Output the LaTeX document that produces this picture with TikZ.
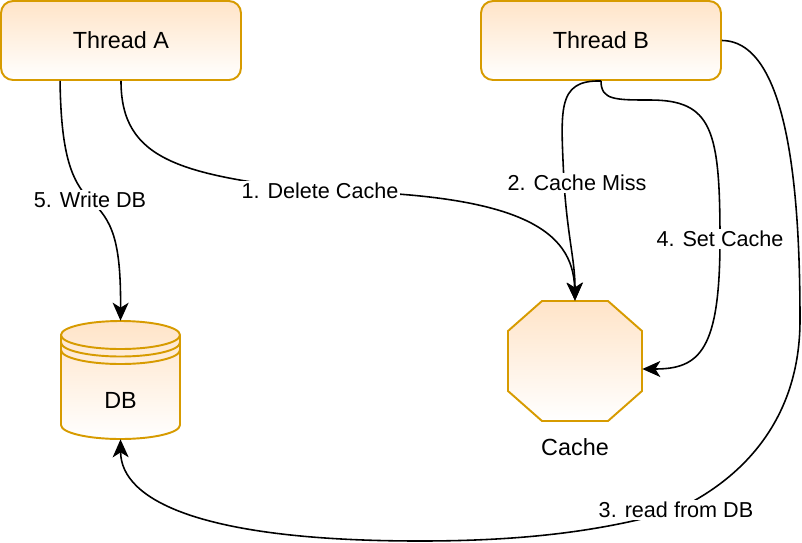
\documentclass[tikz,border=0pt]{standalone}
\usepackage{fontspec}
\setmainfont{Liberation Sans}
\usetikzlibrary{arrows.meta}
\definecolor{ochre}{RGB}{215,155,0}
\definecolor{peach}{RGB}{255,228,200}
\begin{document}
\begin{tikzpicture}[x=0.02cm, y=-0.02cm,
		thread/.style={draw=ochre, line width=1.1pt, rounded corners=0.24cm, top color=peach, bottom color=white, minimum width=4.8cm, minimum height=1.58cm, font=\fontsize{13.3}{16}\selectfont},
		outline/.style={draw=ochre, line width=1.1pt, top color=peach, bottom color=white},
		rim/.style={draw=ochre, line width=1.1pt},
		spot/.style={inner sep=0pt, minimum width=#1},
		caption/.style={font=\fontsize{13.3}{16}\selectfont},
		tag/.style={fill=white, inner sep=1pt, font=\fontsize{12.3}{15}\selectfont},
		flow/.style={-{Stealth[length=0.36cm, width=0.32cm, inset=0.1cm]}, line width=0.9pt}]
			\useasboundingbox (0,0) rectangle (802,542);
			\node [thread] (threadA) at (121,40.5) {Thread A};
			\node [thread] (threadB) at (601,40.5) {Thread B};
			\path [outline] (61,335) -- (61,425) arc [start angle=180, end angle=0, x radius=59.5, y radius=14] -- (180,335) arc [start angle=0, end angle=-180, x radius=59.5, y radius=14] -- cycle;
			\foreach \y in {335,342.5,350}
			\draw [rim] (61,\y) arc [start angle=180, end angle=0, x radius=59.5, y radius=14];
			\node [spot=2.38cm, minimum height=2.36cm] (db) at (120.5,380) {};
			\node [caption] (dbname) at (120.5,400) {DB};
			\path [outline] (542,301) -- (608,301) -- (642,331) -- (642,391) -- (608,421) -- (542,421) -- (508,391) -- (508,331) -- cycle;
			\node [spot=2.68cm, minimum height=2.4cm] (cache) at (575,361) {};
			\node [caption] (cachename) at (575,447) {Cache};
			\draw [flow] (threadA.south) .. controls (121,160) and (180,175) .. (320,191) node [tag] (delete) {1. Delete Cache} .. controls (520,193) and (573,230) .. (cache.north);
			\draw [flow] (threadB.south) .. controls (556,80) and (561,110) .. (564,183) node [tag, xshift=0.26cm] (miss) {2. Cache Miss} .. controls (568,240) and (575,260) .. (cache.north);
			\draw [flow] (threadB.east) .. controls (790,41) and (800,200) .. (800,320) .. controls (800,430) and (730,485) .. (676,510) node [tag] (read) {3. read from DB} .. controls (600,532) and (520,541) .. (420,541) .. controls (200,541) and (121,500) .. (db.south);
			\draw [flow] (threadB.south) .. controls (601,100) and (615,100) .. (650,100) .. controls (712,100) and (720,130) .. (720,239) node [tag] (set) {4. Set Cache} .. controls (720,350) and (700,369) .. ([yshift=-0.16cm]cache.east);
			\draw [flow] ([xshift=1.2cm]threadA.south west) .. controls (61,150) and (70,180) .. (90,200) node [tag] (write) {5. Write DB} .. controls (112,220) and (121,240) .. (db.north);
		\end{tikzpicture}
\end{document}
